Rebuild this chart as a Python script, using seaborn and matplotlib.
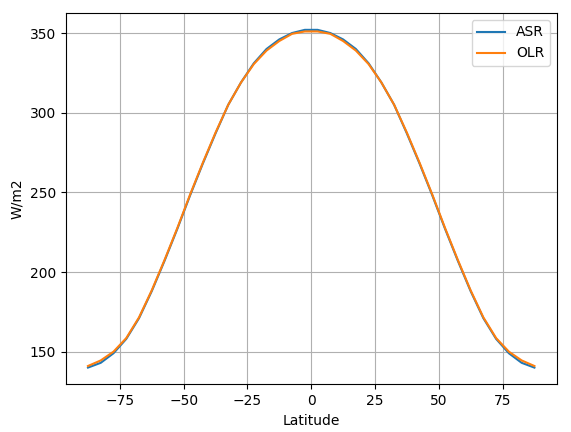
import matplotlib
matplotlib.use("Agg")
import matplotlib.pyplot as plt
import seaborn as sns
import numpy as np

lat = np.arange(-87.5, 90, 5.0)
half_asr = [352, 350, 346, 340, 331, 319, 305, 287, 268, 248, 227, 207, 188, 171, 158, 149, 143, 140]
half_olr = [351, 349.5, 345, 339, 330.5, 319, 305, 287.5, 268.5, 248.5, 227.5, 207.5, 188.5, 171.5, 158.5, 150, 144.5, 141]
asr = half_asr[::-1] + half_asr
olr = half_olr[::-1] + half_olr

fig, ax = plt.subplots(figsize=(5.71, 4.32), dpi=100)
sns.lineplot(x=lat, y=asr, ax=ax, label="ASR", color="#1f77b4")
sns.lineplot(x=lat, y=olr, ax=ax, label="OLR", color="#ff7f0e")
ax.set_xlabel("Latitude")
ax.set_ylabel("W/m2")
ax.grid(True)
ax.legend(loc="upper right")
fig.subplots_adjust(left=0.115, right=0.975, bottom=0.11, top=0.97)
fig.savefig("out.png", dpi=100)
